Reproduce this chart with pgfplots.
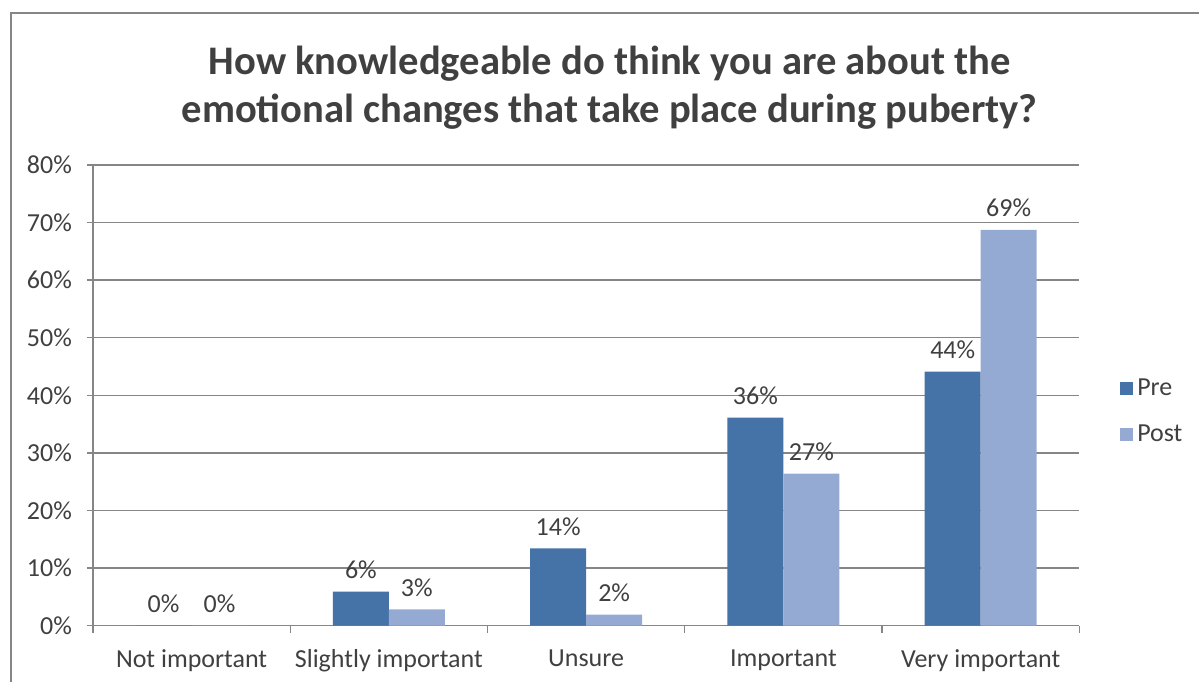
\documentclass[border=0pt]{standalone}
\usepackage{pgfplots}
\pgfplotsset{compat=1.18}
\usepackage{fontspec}
\setmainfont{Carlito}
\definecolor{preC}{HTML}{4572A7}
\definecolor{postC}{HTML}{95AAD2}
\definecolor{axC}{HTML}{868686}
\definecolor{txtC}{HTML}{404040}
\begin{document}
\begin{tikzpicture}[x=1pt,y=1pt]
\begin{axis}[
  at={(0,0)}, anchor=south west,
  scale only axis, width=493.5pt, height=230.5pt,
  ymin=0, ymax=80, xmin=-0.5, xmax=4.5,
  ytick={0,10,...,80},
  yticklabel={\pgfmathprintnumber{\tick}\%},
  /pgf/number format/assume math mode=true,
  xtick={0,1,2,3,4},
  xticklabels={Not important,Slightly important,Unsure,Important,Very important},
  minor xtick={-0.5,0.5,1.5,2.5,3.5,4.5},
  xtick style={draw=none},
  minor x tick style={draw=axC, line width=0.7pt},
  minor tick length=3.5pt,
  major tick length=3pt,
  ytick style={draw=axC, line width=0.7pt},
  ytick align=outside, xtick align=outside,
  ymajorgrids, grid style={axC, line width=0.7pt},
  axis x line*=bottom, axis y line*=left,
  axis line style={axC, line width=0.7pt},
  tick label style={font=\fontsize{13}{15}\selectfont, text=txtC},
  yticklabel style={xshift=-4pt},
  xticklabel style={yshift=-5.5pt},
  ybar=0pt, bar width=28pt,
  nodes near coords={\pgfmathprintnumber{\pgfplotspointmeta}\%},
  nodes near coords style={font=\fontsize{13}{15}\selectfont, text=txtC, /pgf/number format/assume math mode=true, yshift=3pt},
  legend style={at={(1.035,0.465)}, anchor=west, draw=none, fill=none,
    font=\fontsize{13}{15}\selectfont, text=txtC, row sep=9pt},
  legend image code/.code={\fill[#1] (0pt,-3.25pt) rectangle (6.5pt,3.25pt);},
  legend cell align=left,
]
\addplot[fill=preC, draw=none, point meta=explicit] coordinates {(0,0) [0] (1,5.9) [6] (2,13.4) [14] (3,36.1) [36] (4,44.1) [44]};
\addplot[fill=postC, draw=none, point meta=explicit] coordinates {(0,0) [0] (1,2.8) [3] (2,1.9) [2] (3,26.4) [27] (4,68.7) [69]};
\legend{Pre,Post}
\end{axis}
\draw[axC, line width=0.75pt] (-41,-28) -- (-41,306.5) -- (553.5,306.5);
\node[font=\bfseries\fontsize{20.3}{24}\selectfont, text=txtC, align=center] at (258.5,269) {How knowledgeable do think you are about the\\emotional changes that take place during puberty?};
\path (-46.5,-28) rectangle (553.5,313);
\end{tikzpicture}
\end{document}
